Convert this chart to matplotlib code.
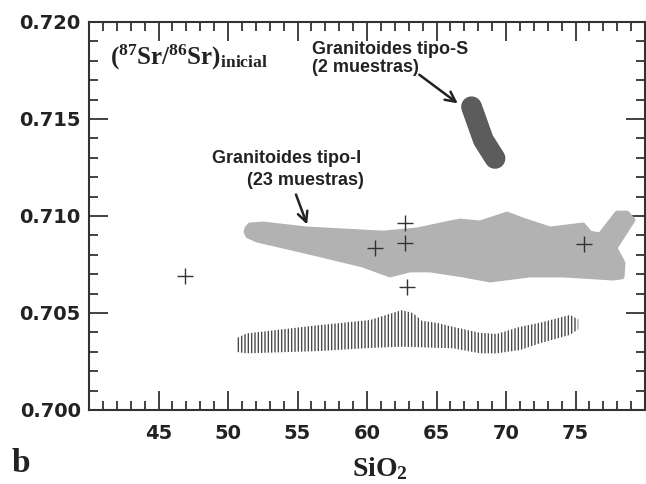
import matplotlib
matplotlib.use("Agg")
import matplotlib.pyplot as plt
from matplotlib.ticker import MultipleLocator, FormatStrFormatter

plt.rcParams['mathtext.fontset'] = 'custom'
plt.rcParams['mathtext.rm'] = 'Liberation Serif:bold'
plt.rcParams['mathtext.it'] = 'Liberation Serif:bold'
plt.rcParams['mathtext.bf'] = 'Liberation Serif:bold'
plt.rcParams['hatch.linewidth'] = 1.0

# ---- data ----
typeI_x = [51.44, 51.30, 51.37, 51.58, 52.50, 55.68, 61.15, 63.60, 65.97, 66.69, 68.13, 70.07, 71.22,
           73.17, 75.54, 76.04, 76.76, 77.99, 78.71, 79.14, 77.84, 78.42, 78.35,
           77.70, 74.10, 71.73, 68.85, 66.91, 64.53, 63.09, 61.65, 59.71, 56.12, 52.09]
typeI_y = [0.70897, 0.70918, 0.70938, 0.70954, 0.70959, 0.70933, 0.70912, 0.70928, 0.70964, 0.70974,
           0.70964, 0.71010, 0.70979, 0.70933, 0.70954, 0.70912, 0.70902, 0.71015, 0.71015, 0.70979,
           0.70835, 0.70758, 0.70686, 0.70680, 0.70696, 0.70696, 0.70670, 0.70696, 0.70722, 0.70722,
           0.70696, 0.70747, 0.70809, 0.70876]

typeS_x = [67.52, 68.37, 69.21]
typeS_y = [0.71563, 0.71392, 0.71297]

band_x = [50.63, 51.35, 56.62, 60.22, 62.50, 63.31, 63.94, 65.11, 66.19, 68.13, 69.33, 71.01, 72.45, 74.60, 75.20]
band_top = [0.70371, 0.70395, 0.70438, 0.70464, 0.70515, 0.70500, 0.70460, 0.70448, 0.70429, 0.70398,
            0.70392, 0.70429, 0.70450, 0.70490, 0.70467]
band_bot = [0.70299, 0.70292, 0.70304, 0.70320, 0.70326, 0.70325, 0.70323, 0.70320, 0.70318, 0.70292,
            0.70292, 0.70309, 0.70344, 0.70387, 0.70416]

samples_x = [46.91, 60.58, 62.73, 62.73, 62.88, 75.61]
samples_y = [0.70691, 0.70835, 0.70964, 0.70861, 0.70634, 0.70856]

xticks = [45, 50, 55, 60, 65, 70, 75]
yticks = [0.700, 0.705, 0.710, 0.715, 0.720]

# ---- figure ----
fig = plt.figure(figsize=(6.46, 4.84), dpi=100)
ax = fig.add_axes([89/646, 1-410/484, (645-89)/646, (410-22)/484])
ax.set_xlim(40, 80)
ax.set_ylim(0.700, 0.720)

ax.fill(typeI_x, typeI_y, facecolor='#b2b2b2', edgecolor='#b2b2b2', linewidth=3.5,
        joinstyle='round', zorder=2)
ax.plot(typeS_x, typeS_y, color='#5c5c5c', linewidth=15, solid_capstyle='round',
        solid_joinstyle='round', zorder=2)
ax.fill_between(band_x, band_bot, band_top, facecolor='none', edgecolor='#4a4a4a',
                hatch='|||||', linewidth=0, zorder=2)
ax.plot(samples_x, samples_y, linestyle='none', marker='+', markersize=11,
        markeredgewidth=1.0, color='#333333', zorder=3)

# annotations
tc = '#222222'
ax.text(41.51, 0.71778, r'$(^{87}Sr/^{86}Sr)_{inicial}$', fontsize=18, color=tc,
        ha='left', va='baseline')
ax.text(56.04, 0.71742, 'Granitoides tipo-S\n(2 muestras)', fontsize=13, color=tc,
        fontweight='bold', family='Liberation Sans', ha='left', va='baseline',
        linespacing=1.05)
ax.text(48.85, 0.71273, 'Granitoides tipo-I', fontsize=13, color=tc,
        fontweight='bold', family='Liberation Sans', ha='left', va='baseline')
ax.text(51.37, 0.71160, '(23 muestras)', fontsize=13, color=tc,
        fontweight='bold', family='Liberation Sans', ha='left', va='baseline')
ax.annotate('', xy=(66.69, 0.71572), xytext=(63.60, 0.71737),
            arrowprops=dict(arrowstyle='->', color=tc, lw=1.8, mutation_scale=18))
ax.annotate('', xy=(55.76, 0.70943), xytext=(54.82, 0.71124),
            arrowprops=dict(arrowstyle='->', color=tc, lw=1.8, mutation_scale=18))

# axes styling
ax.set_xticks(xticks)
ax.set_yticks(yticks)
ax.xaxis.set_minor_locator(MultipleLocator(1))
ax.yaxis.set_minor_locator(MultipleLocator(0.001))
ax.yaxis.set_major_formatter(FormatStrFormatter('%.3f'))
ax.tick_params(which='both', direction='in', top=True, right=True, color='#333333')
ax.tick_params(which='major', length=13.5, width=1.3, labelsize=14, pad=6, labelcolor=tc)
ax.tick_params(which='minor', length=6.8, width=1.3)
ax.tick_params(axis='x', which='major', pad=10)
for lab in ax.get_xticklabels() + ax.get_yticklabels():
    lab.set_fontweight('bold')
for sp in ax.spines.values():
    sp.set_linewidth(1.5)
    sp.set_color('#333333')

xl = ax.set_xlabel(r'$SiO_2$', fontsize=20, color=tc)
xl.set_verticalalignment('baseline')
ax.xaxis.set_label_coords(0.523, -0.170)
fig.text(12/646, 1-472/484, 'b', fontsize=24, fontweight='bold',
         family='Liberation Serif', color=tc, ha='left', va='baseline')

fig.savefig('out.png', dpi=100)
